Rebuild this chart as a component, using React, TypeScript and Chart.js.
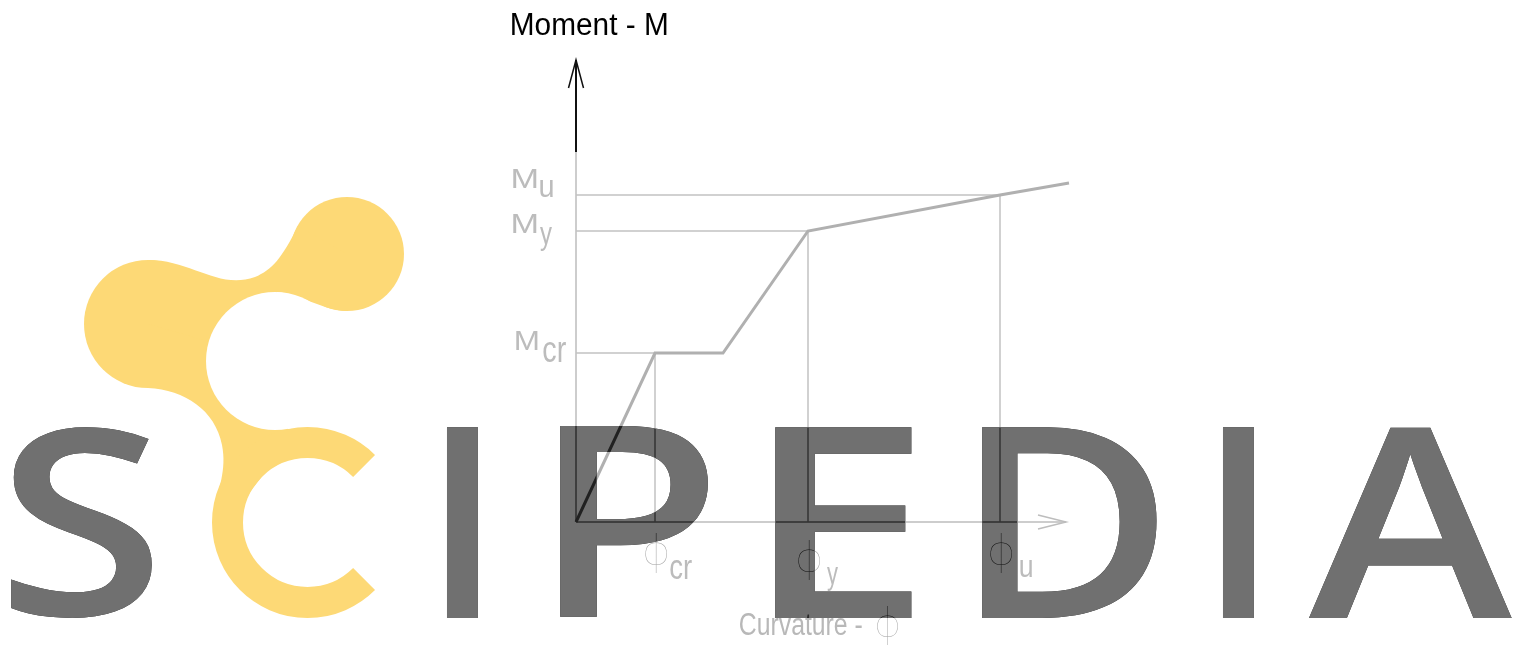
import React, { useEffect, useRef } from "react";
import { Chart, registerables } from "chart.js";

Chart.register(...registerables);

// ---- data (schematic moment–curvature diagram) ----
const curvature = [0, 7.9, 14.7, 23.2, 42.4, 49.3];
const moment = [0, 16.9, 16.9, 29.1, 32.7, 33.9];
const keyNames = ["cr", "y", "u"];
const keyCurvature = [7.9, 23.2, 42.4];
const keyMoment = [16.9, 29.1, 32.7];
const xAxisEnd = [49.0];
const yAxisEnd = [46.2];
const yAxisBlackFrom = [37.0];
const yTitle = "Moment - M";
const xTitle = "Curvature -";
const phi = "ϕ";
const watermark = ["S", "I", "P", "E", "D", "I", "A"];

const W = 1522;
const H = 646;
const YELLOW = "#fdd976";
const LABEL = "#bcbcbc";

type Box = [number, number, number, number];

function fitText(ctx: CanvasRenderingContext2D, text: string, font: string, box: Box) {
  const [l, r, t, b] = box;
  ctx.font = font;
  ctx.textAlign = "left";
  ctx.textBaseline = "alphabetic";
  const m = ctx.measureText(text);
  const w = m.actualBoundingBoxLeft + m.actualBoundingBoxRight;
  const h = m.actualBoundingBoxAscent + m.actualBoundingBoxDescent;
  const sx = (r - l) / w;
  const sy = (b - t) / h;
  ctx.save();
  ctx.translate(l + m.actualBoundingBoxLeft * sx, t + m.actualBoundingBoxAscent * sy);
  ctx.scale(sx, sy);
  ctx.fillText(text, 0, 0);
  ctx.restore();
}

function burnText(ctx: CanvasRenderingContext2D, text: string, font: string, box: Box, invColor: string) {
  const pass = (op: GlobalCompositeOperation, fill: string) => {
    ctx.save();
    ctx.globalCompositeOperation = op;
    ctx.fillStyle = fill;
    fitText(ctx, text, font, box);
    ctx.restore();
  };
  pass("difference", "#ffffff");
  pass("lighter", invColor);
  pass("difference", "#ffffff");
}

function drawLogo(ctx: CanvasRenderingContext2D) {
  ctx.save();
  ctx.fillStyle = YELLOW;
  ctx.strokeStyle = YELLOW;
  const circle = (x: number, y: number, r: number) => {
    ctx.beginPath();
    ctx.arc(x, y, r, 0, Math.PI * 2);
    ctx.fill();
  };
  circle(148, 324, 64);
  circle(347, 254, 57);
  // neck between the two balls
  ctx.beginPath();
  ctx.moveTo(148, 260);
  ctx.bezierCurveTo(192, 260, 218, 290, 255, 277);
  ctx.bezierCurveTo(272, 270, 282, 258, 298, 226);
  ctx.lineTo(347, 254);
  ctx.lineTo(347, 311);
  ctx.bezierCurveTo(325, 311, 305, 296, 277, 292);
  ctx.lineTo(275, 361);
  ctx.lineTo(148, 324);
  ctx.closePath();
  ctx.fill();
  // stem down to the C
  ctx.beginPath();
  ctx.moveTo(148, 388);
  ctx.bezierCurveTo(185, 390, 215, 410, 222, 445);
  ctx.bezierCurveTo(227, 470, 218, 490, 214, 510);
  ctx.lineTo(240, 505);
  ctx.lineTo(290, 440);
  ctx.lineTo(275, 361);
  ctx.lineTo(148, 324);
  ctx.closePath();
  ctx.fill();
  // C ring
  ctx.lineWidth = 31;
  ctx.lineCap = "butt";
  ctx.beginPath();
  ctx.arc(307.5, 522.5, 80, Math.PI / 4, (7 * Math.PI) / 4);
  ctx.stroke();
  // hole
  ctx.fillStyle = "#ffffff";
  circle(275, 361, 69);
  ctx.restore();
}

const decorPlugin = {
  id: "decor",
  beforeDraw(chart: any) {
    const ctx = chart.ctx as CanvasRenderingContext2D;
    ctx.save();
    ctx.fillStyle = "#ffffff";
    ctx.fillRect(0, 0, chart.width, chart.height);
    ctx.restore();
  },
  beforeDatasetsDraw(chart: any) {
    drawLogo(chart.ctx);
  },
  afterDatasetsDraw(chart: any) {
    const ctx = chart.ctx as CanvasRenderingContext2D;
    const xs = chart.scales.x;
    const ys = chart.scales.y;
    const x0 = xs.getPixelForValue(0);
    const y0 = ys.getPixelForValue(0);
    const sans = '400 40px "Liberation Sans", Arial, sans-serif';
    const phiFont = '100 40px "Lato", "Noto Sans", "DejaVu Sans", sans-serif';
    ctx.save();
    // y-axis title
    ctx.fillStyle = "#000000";
    fitText(ctx, yTitle, sans, [x0 - 64, x0 + 91, 13, 35]);
    // M labels
    ctx.fillStyle = LABEL;
    const mOff: Box[] = [
      [-60, -38, -23, -3],
      [-63, -39, -18, 2],
      [-63, -39, -27, -7],
    ];
    const sOff: Box[] = [
      [-33, -10, -11, 9],
      [-36, -24, -4, 19],
      [-36, -23, -15, 2],
    ];
    keyMoment.forEach((m, i) => {
      const py = ys.getPixelForValue(m);
      const a = mOff[i];
      const s = sOff[i];
      fitText(ctx, "M", sans, [x0 + a[0], x0 + a[1], py + a[2], py + a[3]]);
      fitText(ctx, keyNames[i], sans, [x0 + s[0], x0 + s[1], py + s[2], py + s[3]]);
    });
    // phi labels
    const pOff: Box[] = [
      [-10, 12, 11, 51],
      [-10, 12, 18, 58],
      [-10, 12, 11, 51],
    ];
    const qOff: Box[] = [
      [15, 37, 38, 57],
      [19, 30, 45, 68],
      [20, 32, 38, 55],
    ];
    keyCurvature.forEach((c, i) => {
      const px = xs.getPixelForValue(c);
      const p = pOff[i];
      const q = qOff[i];
      ctx.fillStyle = "#a0a0a0";
      fitText(ctx, phi, phiFont, [px + p[0], px + p[1], y0 + p[2], y0 + p[3]]);
      ctx.fillStyle = LABEL;
      fitText(ctx, keyNames[i], sans, [px + q[0], px + q[1], y0 + q[2], y0 + q[3]]);
    });
    // x-axis title
    ctx.fillStyle = "#b8b8b8";
    fitText(ctx, xTitle, sans, [740, 862, 613, 635]);
    ctx.fillStyle = "#a0a0a0";
    fitText(ctx, phi, phiFont, [877, 898, 607, 645]);
    ctx.restore();
  },
  afterDraw(chart: any) {
    const ctx = chart.ctx as CanvasRenderingContext2D;
    const boxes: Box[] = [
      [10, 153, 427, 618],
      [446, 479, 427, 618],
      [559, 709, 427, 618],
      [774, 912, 427, 618],
      [981, 1157, 427, 618],
      [1222, 1255, 427, 618],
      [1309, 1513, 427, 618],
    ];
    const font = '600 200px "Open Sans", "Noto Sans", sans-serif';
    watermark.forEach((ch, i) => burnText(ctx, ch, font, boxes[i], "#8f8f8f"));
  },
};

function pts(xv: number[], yv: number[]) {
  return xv.map((x, i) => ({ x, y: yv[i] }));
}

export default function App() {
  const ref = useRef<HTMLCanvasElement | null>(null);
  useEffect(() => {
    if (!ref.current) return;
    const line = (data: any[], color: string, width: number) => ({
      data,
      borderColor: color,
      borderWidth: width,
      pointRadius: 0,
      fill: false,
      tension: 0,
      clip: false as any,
    });
    const refLines = keyCurvature.map((c, i) =>
      line(pts([0, c, c], [keyMoment[i], keyMoment[i], 0]), "#c2c2c2", 1.5)
    );
    const arrowX = 2.8;
    const wing = 0.7;
    const datasets = [
      line(pts(curvature, moment), "#b0b0b0", 3),
      ...refLines,
      line(pts([0, xAxisEnd[0]], [0, 0]), "#bdbdbd", 1.5),
      line(
        pts([xAxisEnd[0] - arrowX, xAxisEnd[0], xAxisEnd[0] - arrowX], [wing, 0, -wing]),
        "#bdbdbd",
        1.5
      ),
      line(pts([0, 0], [0, yAxisBlackFrom[0]]), "#bdbdbd", 1.5),
      line(pts([0, 0], [yAxisBlackFrom[0], yAxisEnd[0]]), "#111111", 2),
      line(
        pts([-0.75, 0, 0.75], [yAxisEnd[0] - arrowX, yAxisEnd[0], yAxisEnd[0] - arrowX]),
        "#111111",
        1.5
      ),
    ];
    const chart = new Chart(ref.current, {
      type: "line",
      data: { datasets },
      options: {
        animation: false,
        responsive: false,
        maintainAspectRatio: false,
        devicePixelRatio: 1,
        layout: { padding: { left: 576, right: W - 1076, top: 22, bottom: H - 522 } },
        plugins: { legend: { display: false }, tooltip: { enabled: false }, title: { display: false } },
        scales: {
          x: { type: "linear", min: 0, max: 50, display: false },
          y: { type: "linear", min: 0, max: 50, display: false },
        },
      },
      plugins: [decorPlugin],
    });
    return () => chart.destroy();
  }, []);
  return (
    <div style={{ position: "absolute", left: 0, top: 0, width: W, height: H, background: "#fff" }}>
      <canvas ref={ref} width={W} height={H} style={{ display: "block" }} />
    </div>
  );
}
